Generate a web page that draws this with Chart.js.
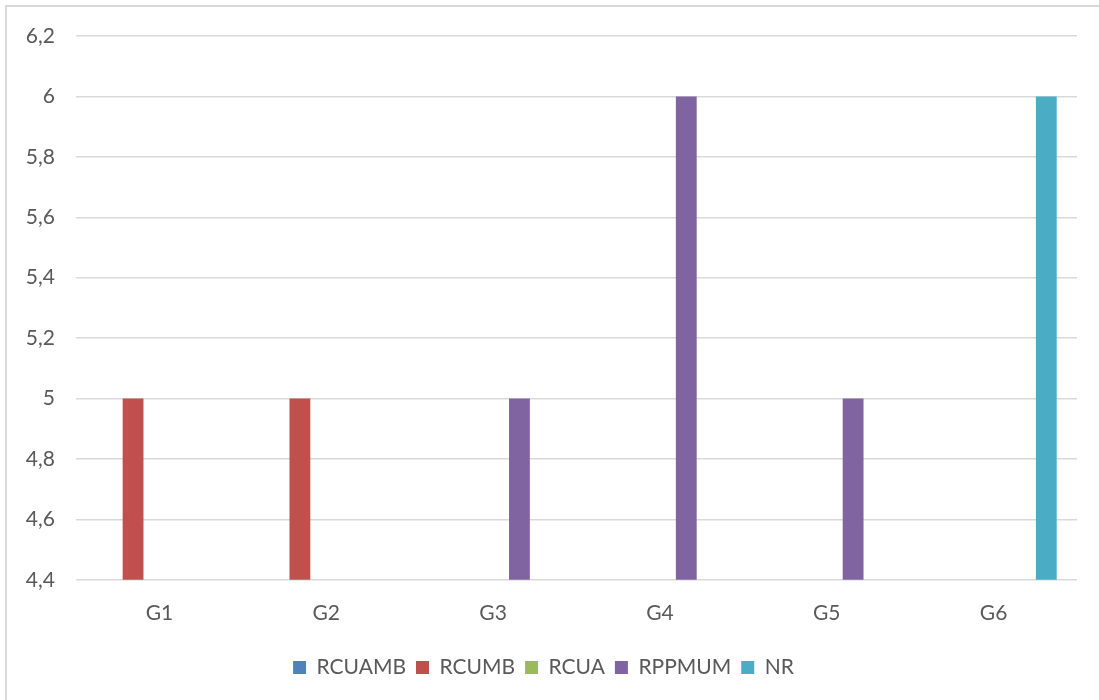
<!DOCTYPE html>
<html>
<head>
<meta charset="utf-8">
<script src="https://cdn.jsdelivr.net/npm/chart.js@4"></script>
<style>
  body { margin: 0; background: #fff; overflow: hidden; }
  #frame {
    position: absolute; left: 5px; top: 5px;
    width: 1100px; height: 700px;
    border: 2px solid #d9d9d9; box-sizing: border-box;
  }
  #wrap { position: absolute; left: 0; top: 0; width: 1099px; height: 700px; }
</style>
</head>
<body>
<div id="frame"></div>
<div id="wrap"><canvas id="chart"></canvas></div>
<script>
'use strict';

// Categories and series values (null = bar not visible)
let groups = ['G1', 'G2', 'G3', 'G4', 'G5', 'G6'];
let rcuamb = [null, null, null, null, null, null];
let rcumb = [5, 5, null, null, null, null];
let rcua = [null, null, null, null, null, null];
let rppmum = [null, null, 5, 6, 5, null];
let nr = [null, null, null, null, null, 6];

// Y axis range
let yMin = 4.4;
let yMax = 6.2;
let yStep = 0.2;

let textColor = '#595959';
let fontFamily = 'Lato, "Open Sans", sans-serif';

function makeSet(label, data, color) {
  return {
    label: label,
    data: data,
    backgroundColor: color,
    borderWidth: 0,
    categoryPercentage: 0.79,
    barPercentage: 0.79
  };
}

let ctx = document.getElementById('chart').getContext('2d');

new Chart(ctx, {
  type: 'bar',
  data: {
    labels: groups,
    datasets: [
      makeSet('RCUAMB', rcuamb, '#4F81BD'),
      makeSet('RCUMB', rcumb, '#C0504D'),
      makeSet('RCUA', rcua, '#9BBB59'),
      makeSet('RPPMUM', rppmum, '#8064A2'),
      makeSet('NR', nr, '#4BACC6')
    ]
  },
  options: {
    responsive: true,
    maintainAspectRatio: false,
    animation: false,
    layout: {
      padding: { left: 10, right: 22, top: 36, bottom: 12 }
    },
    scales: {
      x: {
        grid: { display: false, drawTicks: false },
        border: { display: false },
        ticks: {
          color: textColor,
          padding: 21,
          font: { family: fontFamily, size: 21 }
        }
      },
      y: {
        min: yMin,
        max: yMax,
        grid: { color: '#d9d9d9', lineWidth: 1.5, drawTicks: false },
        border: { display: false },
        afterFit: function (scale) { scale.width = 66; },
        ticks: {
          stepSize: yStep,
          color: textColor,
          padding: 21,
          font: { family: fontFamily, size: 21 },
          callback: function (value) {
            return String(Math.round(value * 10) / 10).replace('.', ',');
          }
        }
      }
    },
    plugins: {
      legend: {
        position: 'bottom',
        labels: {
          color: textColor,
          boxWidth: 13,
          boxHeight: 13,
          padding: 10,
          font: { family: fontFamily, size: 21 }
        }
      },
      tooltip: { enabled: false }
    }
  }
});
</script>
</body>
</html>
